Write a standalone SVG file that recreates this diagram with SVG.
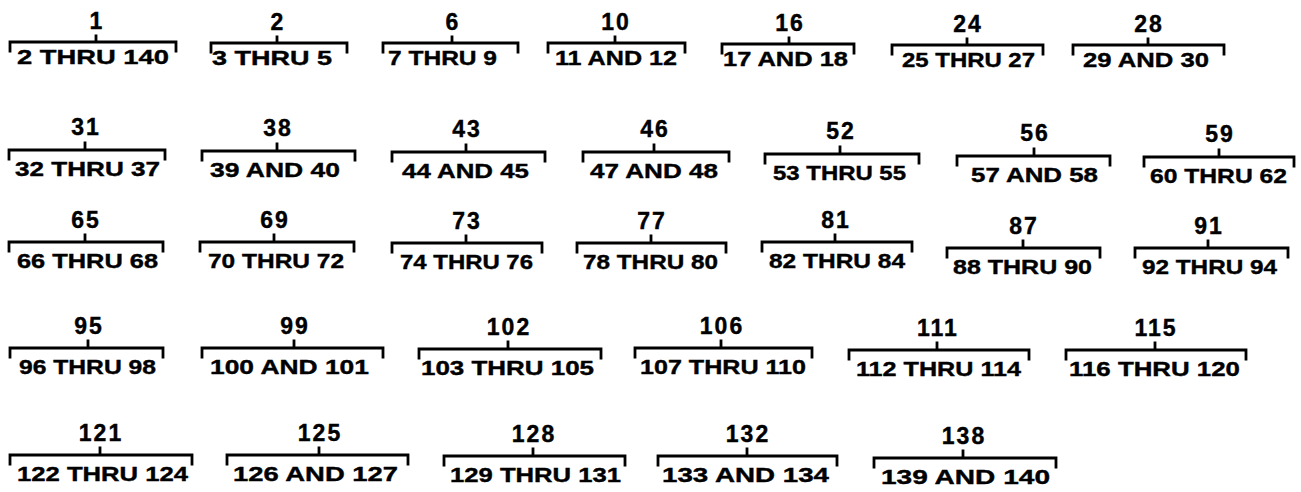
<svg xmlns="http://www.w3.org/2000/svg" width="1301" height="492" viewBox="0 0 1301 492">
<style>
.bg{fill:#fff}
.br{fill:none;stroke:#000;stroke-width:2.8;stroke-linecap:square}
.lb{font-family:"Liberation Sans",Arial,sans-serif;font-weight:bold;font-size:23px;fill:#000;stroke:#000;stroke-width:0.4;text-anchor:middle;letter-spacing:2px;transform:translate(1px,0)}
.rg{font-family:"Liberation Sans",Arial,sans-serif;font-weight:bold;font-size:21px;fill:#000;stroke:#000;stroke-width:0.4}
</style>
<rect class="bg" x="0" y="0" width="1301" height="492"/>
<g id="connectors">
<path class="br" d="M10,51V42H176V51M96,42V36"/>
<path class="br" d="M211,52V43H347V52M277,43V37"/>
<path class="br" d="M383,52V43H518V52M452,43V37"/>
<path class="br" d="M548,52V43H685V52M615,43V37"/>
<path class="br" d="M722,53V44H854V53M789,44V38"/>
<path class="br" d="M892,54V45H1043V54M967,45V39"/>
<path class="br" d="M1073,54V45H1224V54M1148,45V39"/>

<path class="br" d="M9,159V150H165V159M85,150V143"/>
<path class="br" d="M202,160V151H355V160M277,151V144"/>
<path class="br" d="M392,161V152H545V161M466,152V145"/>
<path class="br" d="M583,161V152H729V161M654,152V145"/>
<path class="br" d="M765,163V154H919V163M840,154V147"/>
<path class="br" d="M957,165V156H1110V165M1034,156V149"/>
<path class="br" d="M1144,166V157H1294V166M1219,157V150"/>

<path class="br" d="M9,251V242H163V251M85,242V235"/>
<path class="br" d="M200,251V242H354V251M274,242V235"/>
<path class="br" d="M392,252V243H542V252M466,243V236"/>
<path class="br" d="M577,252V243H726V252M651,243V236"/>
<path class="br" d="M762,251V242H912V251M835,242V235"/>
<path class="br" d="M947,257V248H1100V257M1023,248V241"/>
<path class="br" d="M1135,257V248H1288V257M1208,248V241"/>

<path class="br" d="M10,357V348H163V357M88,348V341"/>
<path class="br" d="M202,357V348H383V357M294,348V341"/>
<path class="br" d="M419,358V349H601V358M508,349V342"/>
<path class="br" d="M635,357V348H812V357M721,348V341"/>
<path class="br" d="M849,359V350H1029V359M937,350V343"/>
<path class="br" d="M1066,359V350H1246V359M1155,350V343"/>

<path class="br" d="M10,464V455H192V464M100,455V448"/>
<path class="br" d="M227,464V455H408V464M319,455V448"/>
<path class="br" d="M444,465V456H625V465M533,456V449"/>
<path class="br" d="M658,465V456H837V465M747,456V449"/>
<path class="br" d="M874,467V458H1056V467M963,458V451"/>
</g>

<g id="n1"><text class="lb" x="96" y="29">1</text><text class="rg" x="17" y="64" textLength="152" lengthAdjust="spacingAndGlyphs">2 THRU 140</text></g>
<g id="n2"><text class="lb" x="277" y="30">2</text><text class="rg" x="212" y="65" textLength="120" lengthAdjust="spacingAndGlyphs">3 THRU 5</text></g>
<g id="n6"><text class="lb" x="452" y="30">6</text><text class="rg" x="388" y="65" textLength="109" lengthAdjust="spacingAndGlyphs">7 THRU 9</text></g>
<g id="n10"><text class="lb" x="615" y="30">10</text><text class="rg" x="555" y="65" textLength="122" lengthAdjust="spacingAndGlyphs">11 AND 12</text></g>
<g id="n16"><text class="lb" x="789" y="31">16</text><text class="rg" x="723" y="66" textLength="125" lengthAdjust="spacingAndGlyphs">17 AND 18</text></g>
<g id="n24"><text class="lb" x="967" y="32">24</text><text class="rg" x="902" y="67" textLength="133" lengthAdjust="spacingAndGlyphs">25 THRU 27</text></g>
<g id="n28"><text class="lb" x="1148" y="32">28</text><text class="rg" x="1083" y="67" textLength="126" lengthAdjust="spacingAndGlyphs">29 AND 30</text></g>

<g id="n31"><text class="lb" x="85" y="135">31</text><text class="rg" x="15" y="176" textLength="145" lengthAdjust="spacingAndGlyphs">32 THRU 37</text></g>
<g id="n38"><text class="lb" x="277" y="136">38</text><text class="rg" x="210" y="177" textLength="130" lengthAdjust="spacingAndGlyphs">39 AND 40</text></g>
<g id="n43"><text class="lb" x="466" y="137">43</text><text class="rg" x="402" y="178" textLength="127" lengthAdjust="spacingAndGlyphs">44 AND 45</text></g>
<g id="n46"><text class="lb" x="654" y="137">46</text><text class="rg" x="590" y="178" textLength="128" lengthAdjust="spacingAndGlyphs">47 AND 48</text></g>
<g id="n52"><text class="lb" x="840" y="139">52</text><text class="rg" x="773" y="180" textLength="133" lengthAdjust="spacingAndGlyphs">53 THRU 55</text></g>
<g id="n56"><text class="lb" x="1034" y="141">56</text><text class="rg" x="971" y="182" textLength="127" lengthAdjust="spacingAndGlyphs">57 AND 58</text></g>
<g id="n59"><text class="lb" x="1219" y="142">59</text><text class="rg" x="1150" y="183" textLength="137" lengthAdjust="spacingAndGlyphs">60 THRU 62</text></g>

<g id="n65"><text class="lb" x="85" y="228">65</text><text class="rg" x="17" y="268" textLength="141" lengthAdjust="spacingAndGlyphs">66 THRU 68</text></g>
<g id="n69"><text class="lb" x="274" y="228">69</text><text class="rg" x="208" y="268" textLength="136" lengthAdjust="spacingAndGlyphs">70 THRU 72</text></g>
<g id="n73"><text class="lb" x="466" y="229">73</text><text class="rg" x="400" y="269" textLength="133" lengthAdjust="spacingAndGlyphs">74 THRU 76</text></g>
<g id="n77"><text class="lb" x="651" y="229">77</text><text class="rg" x="583" y="269" textLength="135" lengthAdjust="spacingAndGlyphs">78 THRU 80</text></g>
<g id="n81"><text class="lb" x="835" y="228">81</text><text class="rg" x="769" y="268" textLength="136" lengthAdjust="spacingAndGlyphs">82 THRU 84</text></g>
<g id="n87"><text class="lb" x="1023" y="234">87</text><text class="rg" x="953" y="274" textLength="139" lengthAdjust="spacingAndGlyphs">88 THRU 90</text></g>
<g id="n91"><text class="lb" x="1208" y="234">91</text><text class="rg" x="1142" y="274" textLength="135" lengthAdjust="spacingAndGlyphs">92 THRU 94</text></g>

<g id="n95"><text class="lb" x="88" y="334">95</text><text class="rg" x="19" y="374" textLength="137" lengthAdjust="spacingAndGlyphs">96 THRU 98</text></g>
<g id="n99"><text class="lb" x="294" y="334">99</text><text class="rg" x="210" y="374" textLength="159" lengthAdjust="spacingAndGlyphs">100 AND 101</text></g>
<g id="n102"><text class="lb" x="508" y="335">102</text><text class="rg" x="421" y="375" textLength="173" lengthAdjust="spacingAndGlyphs">103 THRU 105</text></g>
<g id="n106"><text class="lb" x="721" y="334">106</text><text class="rg" x="640" y="374" textLength="166" lengthAdjust="spacingAndGlyphs">107 THRU 110</text></g>
<g id="n111"><text class="lb" x="937" y="336">111</text><text class="rg" x="856" y="376" textLength="165" lengthAdjust="spacingAndGlyphs">112 THRU 114</text></g>
<g id="n115"><text class="lb" x="1155" y="336">115</text><text class="rg" x="1069" y="376" textLength="171" lengthAdjust="spacingAndGlyphs">116 THRU 120</text></g>

<g id="n121"><text class="lb" x="100" y="441">121</text><text class="rg" x="17" y="481" textLength="171" lengthAdjust="spacingAndGlyphs">122 THRU 124</text></g>
<g id="n125"><text class="lb" x="319" y="441">125</text><text class="rg" x="233" y="481" textLength="165" lengthAdjust="spacingAndGlyphs">126 AND 127</text></g>
<g id="n128"><text class="lb" x="533" y="442">128</text><text class="rg" x="450" y="482" textLength="171" lengthAdjust="spacingAndGlyphs">129 THRU 131</text></g>
<g id="n132"><text class="lb" x="747" y="442">132</text><text class="rg" x="662" y="482" textLength="167" lengthAdjust="spacingAndGlyphs">133 AND 134</text></g>
<g id="n138"><text class="lb" x="963" y="444">138</text><text class="rg" x="881" y="484" textLength="169" lengthAdjust="spacingAndGlyphs">139 AND 140</text></g>
</svg>
